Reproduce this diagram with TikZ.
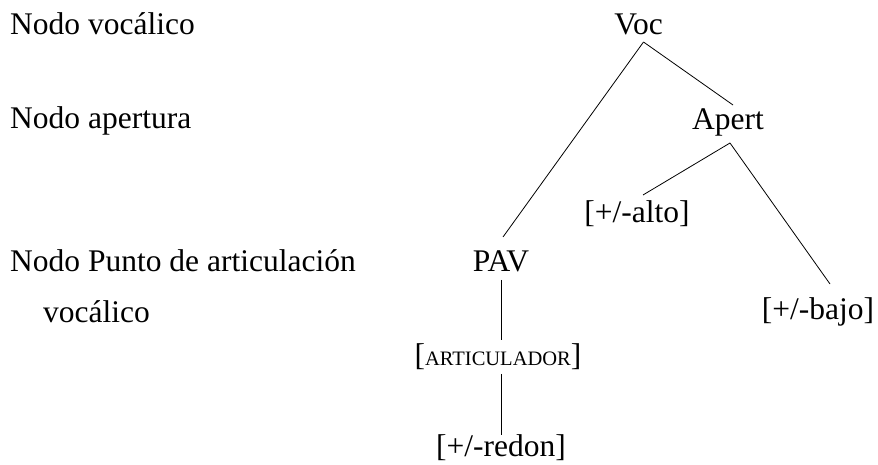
\documentclass[tikz,border=0pt]{standalone}
\usepackage{fontspec}
\setmainfont{Liberation Serif}
\begin{document}
\begin{tikzpicture}[x=1pt,y=1pt,
  lbl/.style={anchor=base west,inner sep=0pt,font=\fontsize{31.5}{36}\selectfont},
  feat/.style={anchor=base,inner sep=0pt,font=\fontsize{31.5}{36}\selectfont},
  edge/.style={line width=0.8pt,black}]
\useasboundingbox (0,0) rectangle (878,465);
% left labels
\node[lbl] (l1) at (10,430) {Nodo vocálico};
\node[lbl] (l2) at (10,336) {Nodo apertura};
\node[lbl] (l3) at (10,193) {Nodo Punto de articulación};
\node[lbl] (l4) at (43,142) {vocálico};
% tree
\node[feat] (voc) at (638.5,430) {Voc};
\node[feat] (apert) at (728,335) {Apert};
\node[feat] (alto) at (637,242) {[+/-alto]};
\node[feat] (pav) at (501,193) {PAV};
\node[feat] (bajo) at (818,145) {[+/-bajo]};
\node[feat] (art) at (498,99) {[{\fontsize{20.5}{24}\selectfont ARTICULADOR}]};
\node[feat] (redon) at (501,8) {[+/-redon]};
% connectors
\draw[edge] ([shift={(5,-7)}]voc.base) -- ([shift={(2,35)}]pav.base);
\draw[edge] ([shift={(5,-7)}]voc.base) -- ([shift={(5,25)}]apert.base);
\draw[edge] ([shift={(2,-13)}]apert.base) -- ([shift={(6,28)}]alto.base);
\draw[edge] ([shift={(2,-13)}]apert.base) -- ([shift={(12,36)}]bajo.base);
\draw[edge] ([shift={(0,-8)}]pav.base) -- ([shift={(3,26)}]art.base);
\draw[edge] ([shift={(3,-8)}]art.base) -- ([shift={(0,22)}]redon.base);
\end{tikzpicture}
\end{document}
